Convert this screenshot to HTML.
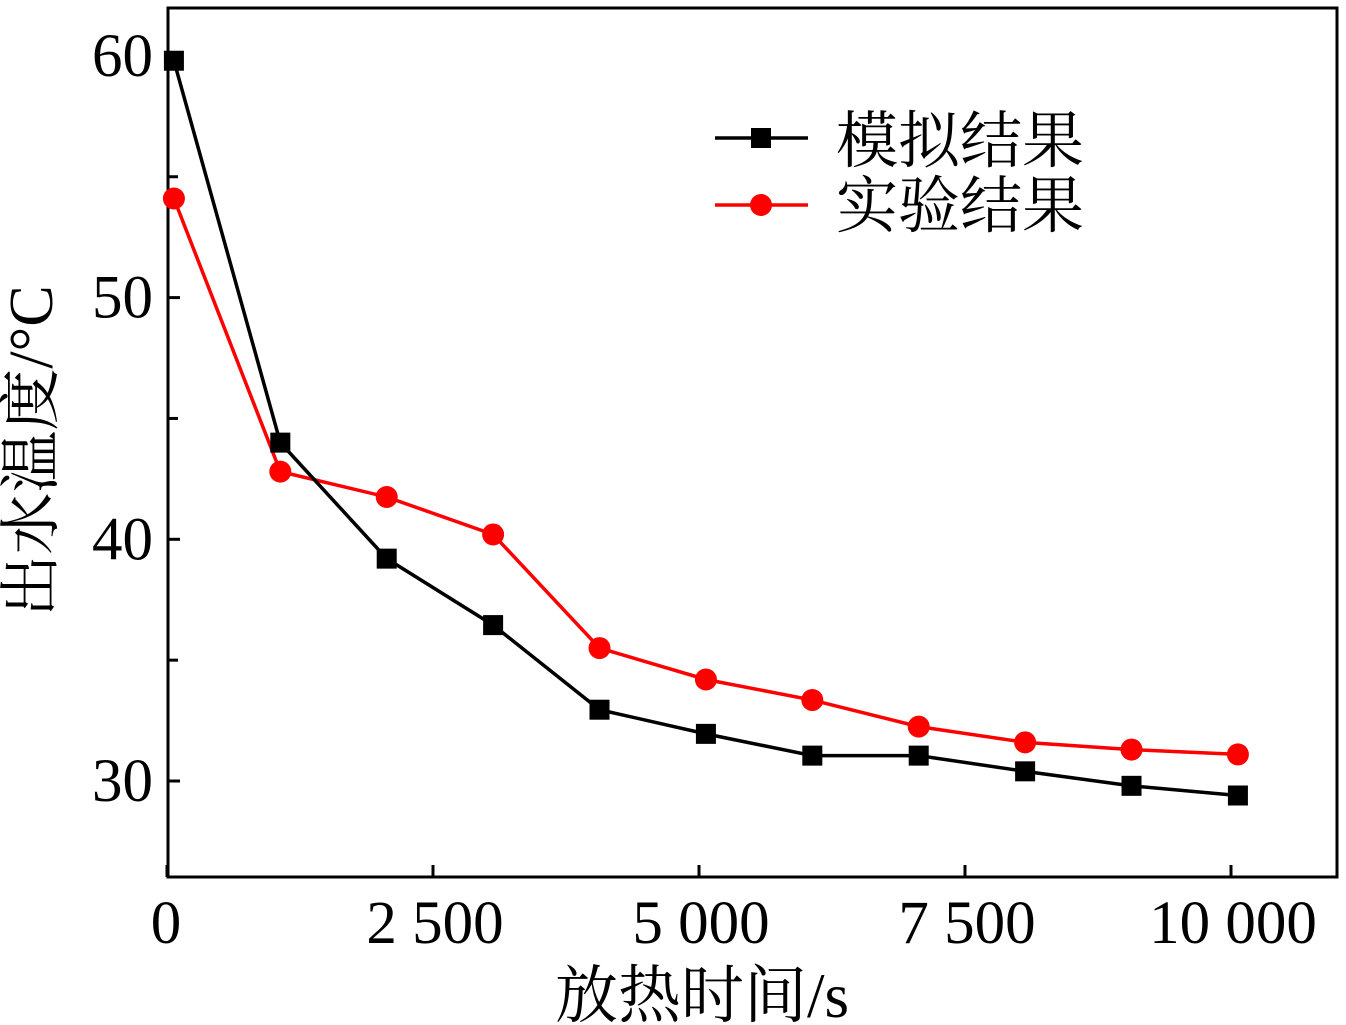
<!DOCTYPE html>
<html><head><meta charset="utf-8"><style>
html,body{margin:0;padding:0;background:#fff;width:1346px;height:1025px;overflow:hidden}
text{font-family:"Liberation Serif","Noto Serif CJK SC",serif;fill:#000}
</style></head><body>
<svg id="chart" width="1346" height="1025" xmlns="http://www.w3.org/2000/svg"></svg>
<script>
const xValues=[65,1065,2065,3065,4065,5065,6065,7065,8065,9065,10065];
const simValues=[59.8,44.0,39.2,36.45,32.95,31.95,31.05,31.05,30.4,29.8,29.4];
const expValues=[54.1,42.8,41.75,40.2,35.5,34.2,33.35,32.25,31.6,31.3,31.1];
const xTicks=[0,2500,5000,7500,10000];
const xTickLabels=["0","2 500","5 000","7 500","10 000"];
const yTicks=[30,40,50,60];
const yMinorTicks=[35,45,55];
const NS="http://www.w3.org/2000/svg";
const svg=document.getElementById('chart');
const L=168,T=8,R=1337,B=877;
function xs(v){return 167+v*0.1064;}
function ys(v){return 781-(v-30)*24.17;}
function el(tag,attrs,parent){const e=document.createElementNS(NS,tag);for(const k in attrs)e.setAttribute(k,attrs[k]);(parent||svg).appendChild(e);return e;}
const frame=el('rect',{x:L,y:T,width:R-L,height:B-T,fill:'none',stroke:'#000','stroke-width':3});


xTicks.forEach((v,i)=>{
  const t=el('line',{x1:xs(v),x2:xs(v),y1:B,y2:B-12,stroke:'#000','stroke-width':3});
  
  
  const lb=el('text',{x:i==0?166:xs(v)+2,y:943,'font-size':61,'text-anchor':'middle'});
  lb.textContent=xTickLabels[i];
  
  
});
yTicks.forEach(v=>{
  const t=el('line',{x1:L,x2:L+12,y1:ys(v),y2:ys(v),stroke:'#000','stroke-width':3});
  
  
  const lb=el('text',{x:153,y:ys(v)+20,'font-size':61,'text-anchor':'end'});
  lb.textContent=v;
  
  
});
yMinorTicks.forEach(v=>{
  const t=el('line',{x1:L,x2:L+10,y1:ys(v),y2:ys(v),stroke:'#000','stroke-width':3});
  
  
});
function series(vals,color,square,name){
  const pl=el('polyline',{points:vals.map((v,i)=>xs(xValues[i])+','+ys(v)).join(' '),fill:'none',stroke:color,'stroke-width':3.5});
  
  
  vals.forEach((v,i)=>{
    const m=square?el('rect',{x:xs(xValues[i])-10,y:ys(v)-10,width:20,height:20,fill:color}):el('circle',{cx:xs(xValues[i]),cy:ys(v),r:11,fill:color});
    
    
  });
}
series(expValues,'#ff0000',false,'experiment');
series(simValues,'#000000',true,'simulation');
const l1=el('line',{x1:715,x2:808,y1:138,y2:138,stroke:'#000','stroke-width':3.5});


const m1=el('rect',{x:751,y:128,width:20,height:20,fill:'#000'});


const t1=el('text',{x:836,y:162,'font-size':62});t1.textContent='模拟结果';


const l2=el('line',{x1:715,x2:808,y1:205,y2:205,stroke:'#ff0000','stroke-width':3.5});


const m2=el('circle',{cx:761,cy:205,r:11,fill:'#ff0000'});


const t2=el('text',{x:836,y:227,'font-size':62});t2.textContent='实验结果';


const xt=el('text',{x:702,y:1017,'font-size':63,'text-anchor':'middle'});xt.textContent='放热时间/s';


const yt=el('text',{x:0,y:0,'font-size':62,'text-anchor':'middle',transform:'translate(52,451) rotate(-90)'});yt.textContent='出水温度/°C';


</script>
</body></html>
